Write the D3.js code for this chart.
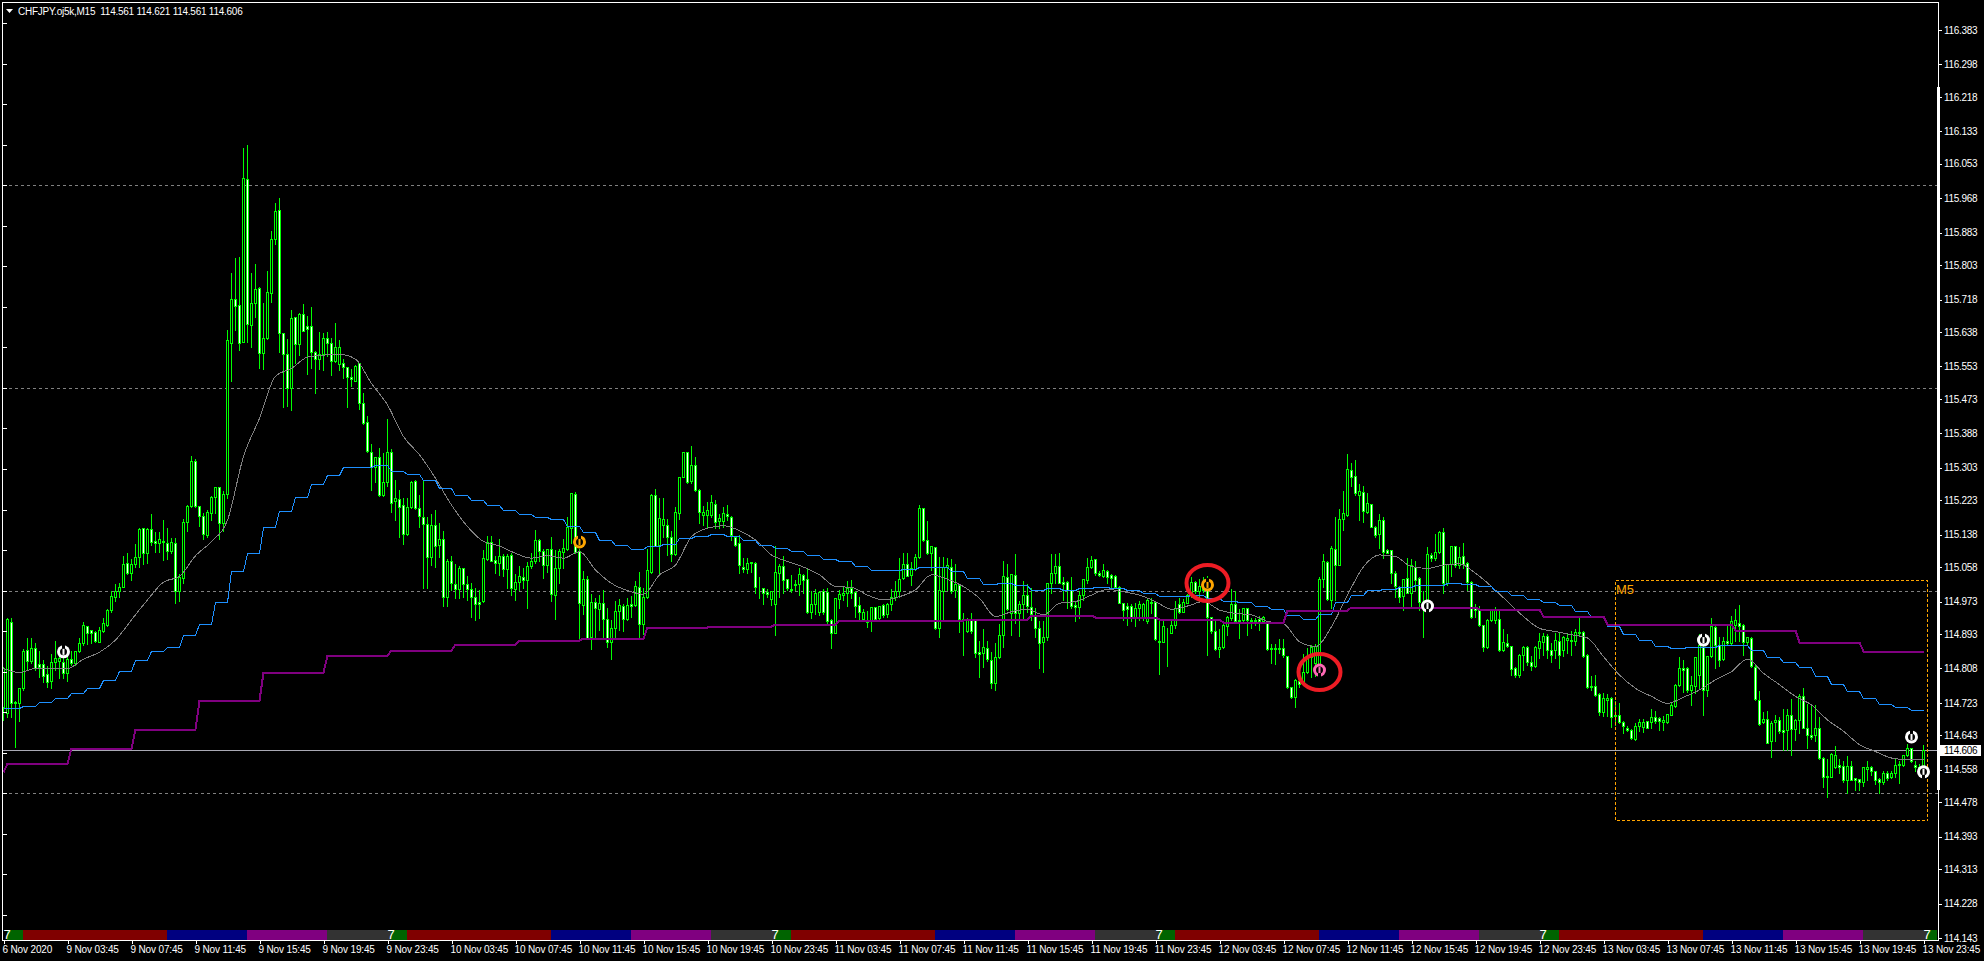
<!DOCTYPE html>
<html>
<head>
<meta charset="utf-8">
<title>CHFJPY M15</title>
<script src="https://cdn.jsdelivr.net/npm/d3@7"></script>
<style>
    html, body { margin: 0; padding: 0; background: #000; overflow: hidden; }
    svg { display: block; }
    text { font-family: "Liberation Sans", sans-serif; fill: #fff; }
</style>
</head>
<body>
<svg id="chart" width="1984" height="961"></svg>
<script>
// all candle and indicator values are points above 114.000 (561 = 114.561)
const opens = [
714,699,923,726,722,759,854,827,859,818,818,794,778,825,827,825,796,831,821,851,870,912,902,897,874,
901,915,951,985,998,1010,1067,1043,1065,1082,1154,1092,1151,1122,1118,1123,1118,1097,1117,998,1030,1170,1209,1319,1209,
1183,1137,1191,1230,1255,1166,1239,1612,1719,1704,1614,2015,1656,1709,1746,1585,1624,1735,1867,1939,1635,1583,1499,1674,1608,
1682,1652,1652,1588,1571,1583,1622,1610,1567,1558,1561,1552,1526,1518,1561,1462,1417,1343,1304,1329,1235,1269,1341,1220,1225,
1210,1139,1206,1271,1203,1181,1165,1082,1161,1112,1127,985,1072,1016,1005,1057,1016,1004,985,973,974,1078,1119,1076,1067,
1086,1053,1088,1004,1022,1034,1026,1061,1072,1124,1098,1064,1102,989,1055,1096,1102,1154,1238,1097,965,1028,885,973,954,
969,931,874,907,949,962,930,966,964,1010,917,985,1047,1235,1113,1161,1161,1132,1090,1191,1280,1341,1270,1310,1248,
1187,1187,1187,1213,1172,1172,1189,1182,1133,1117,1059,1053,1071,1067,1007,1007,997,979,967,1043,1061,1028,1004,1013,1016,
1039,1028,946,967,946,999,997,928,896,980,989,995,1007,997,964,929,928,925,960,932,964,942,966,984,998,
1030,1065,1039,1053,1082,1203,1124,1092,1107,907,1000,1058,1058,1002,1013,929,901,928,928,848,845,858,829,771,837,
891,1033,944,1039,944,966,988,959,940,907,872,885,1018,1043,1061,1021,1021,1002,964,959,989,1025,1059,1077,1044,
1036,1049,1039,1036,1010,970,961,962,936,956,936,924,969,973,876,874,896,896,914,967,948,970,989,1022,1000,
1018,1006,934,901,855,862,913,932,966,928,928,958,928,924,929,925,924,859,857,859,859,839,762,738,778,
775,800,837,821,817,1028,1070,977,1103,1063,1177,1187,1298,1283,1236,1243,1195,1214,1156,1139,1174,1100,1100,1044,1008,
987,1030,995,1059,1030,961,973,1088,1081,1096,1144,1018,1066,1110,1063,1086,1069,1022,959,952,914,860,928,928,930,
854,870,864,809,792,842,861,825,815,858,872,888,854,854,876,854,877,879,875,895,898,840,765,765,745,
700,731,735,690,692,675,662,655,634,665,663,678,677,688,685,676,675,694,716,768,809,809,754,765,792,
862,755,838,910,866,831,875,870,916,920,914,872,884,811,731,676,683,628,676,680,656,657,692,659,680,
741,662,644,643,661,587,543,541,566,569,568,532,568,537,535,527,561,565,554,535,527,550,539,550,570,
569,595,611,570,566,561
];
const highs = [
814,936,936,730,763,858,885,885,874,854,831,817,845,878,850,845,841,854,854,886,925,913,903,903,913,
934,956,1002,1018,1022,1088,1096,1080,1117,1156,1156,1156,1192,1146,1146,1177,1156,1133,1133,1043,1178,1214,1335,1326,1211,
1193,1201,1236,1258,1258,1248,1645,1785,1822,1826,2094,2103,1785,1807,1751,1713,1791,1890,1959,1970,1638,1622,1694,1677,1687,
1709,1680,1702,1594,1640,1637,1640,1625,1663,1621,1573,1555,1548,1558,1565,1490,1433,1363,1331,1355,1343,1425,1351,1275,1250,
1232,1230,1273,1275,1238,1273,1183,1192,1201,1170,1150,1080,1088,1067,1063,1059,1039,1022,1010,1004,1102,1137,1137,1088,1129,
1092,1092,1096,1043,1063,1059,1072,1096,1151,1129,1104,1104,1135,1102,1104,1129,1183,1244,1246,1104,1051,1039,993,985,992,
1003,960,929,977,981,969,985,989,1026,1048,1010,1104,1242,1252,1232,1230,1178,1150,1209,1281,1343,1343,1359,1333,1252,
1211,1220,1238,1225,1191,1209,1214,1187,1137,1140,1082,1084,1072,1072,1035,1010,1006,1002,1113,1067,1088,1030,1041,1028,1059,
1043,1059,1002,1006,1002,1006,1010,932,985,1003,1012,1026,1028,1002,987,956,952,962,962,965,969,973,1006,1026,1084,
1096,1096,1072,1092,1213,1207,1174,1113,1110,1086,1086,1084,1080,1067,1018,947,936,946,932,878,907,878,850,874,919,
1076,1067,1044,1092,977,1026,1018,1010,960,928,928,1022,1092,1092,1096,1035,1026,1035,977,1002,1030,1084,1088,1080,1051,
1067,1053,1043,1041,1014,973,973,969,973,977,973,981,985,977,928,928,911,928,977,985,981,993,1035,1026,1030,
1035,1039,937,928,907,919,940,1006,1002,956,960,960,936,936,940,940,928,870,870,882,882,841,763,784,784,
845,862,868,870,1035,1092,1076,1113,1183,1203,1247,1339,1318,1324,1265,1261,1244,1215,1162,1191,1183,1104,1102,1051,1014,
1030,1082,1080,1076,1035,1002,1110,1096,1141,1150,1158,1067,1113,1113,1109,1121,1072,1026,969,965,918,932,956,961,952,
907,895,866,813,846,866,866,842,866,899,897,895,872,899,899,891,895,903,907,936,903,846,792,795,751,
751,747,739,731,724,681,669,661,677,685,685,681,710,706,690,694,696,727,772,838,831,813,792,838,895,
883,842,936,920,887,887,916,940,957,967,921,888,888,821,755,702,706,681,696,690,710,710,735,685,747,
763,722,722,721,690,591,587,603,620,587,583,595,583,541,537,566,583,570,558,541,558,558,558,587,583,
597,624,615,583,574,621
];
const lows = [
681,688,688,614,679,755,804,821,804,788,775,763,759,804,784,784,778,817,817,848,866,868,870,872,872,
899,913,948,975,985,1008,1040,1026,1059,1059,1066,1067,1113,1096,1096,1076,1077,1094,970,975,1018,1148,1206,1206,1160,
1127,1133,1174,1191,1127,1146,1228,1516,1643,1594,1614,1614,1602,1676,1548,1547,1620,1713,1855,1589,1452,1456,1446,1561,1581,
1641,1534,1548,1488,1546,1543,1579,1532,1565,1544,1524,1454,1505,1516,1449,1410,1341,1247,1269,1233,1233,1257,1195,1173,1133,
1115,1137,1203,1201,1158,1006,1006,1063,1059,1084,961,961,1002,981,981,985,977,936,928,932,973,1076,1072,1043,1039,
1035,1006,988,977,1002,1006,956,1055,1067,1074,1030,1047,974,930,1018,1055,1099,1117,1092,880,942,880,857,882,903,
885,862,832,886,903,901,928,936,961,886,893,981,1043,1109,1044,1133,1088,1072,1088,1177,1280,1265,1265,1246,1166,
1162,1158,1181,1154,1154,1158,1174,1125,1110,1044,1046,1044,1047,993,981,967,985,965,891,985,993,1002,997,1002,989,
993,944,932,942,940,942,921,859,895,956,977,961,981,936,928,928,910,900,928,929,936,934,952,977,985,
1028,1035,1014,1051,1080,1123,1090,1051,905,886,929,1002,993,985,899,840,899,895,836,788,811,827,759,755,833,
862,952,891,919,888,932,948,928,886,808,800,878,993,1018,1018,977,956,956,924,932,977,1018,1055,1039,1035,
1033,1018,1010,1006,969,928,915,924,913,928,928,919,944,878,794,872,814,895,907,944,946,969,985,993,973,
997,841,895,854,837,858,891,928,924,882,924,891,907,915,903,924,854,822,819,845,837,759,734,712,763,
771,796,788,789,804,1010,977,956,977,1062,1150,1183,1257,1236,1174,1170,1191,1156,1133,1104,1080,1092,1018,985,973,
952,993,961,1002,952,885,952,1072,1076,1092,993,1014,1035,1059,1055,1055,1002,932,936,913,852,858,924,919,850,
850,862,792,787,787,805,817,805,811,833,842,833,825,833,809,838,846,842,866,891,836,759,755,739,694,
690,690,663,669,673,648,653,634,632,653,650,661,661,673,657,655,673,692,714,765,751,751,718,747,759,
694,739,836,809,813,829,866,866,875,875,842,869,811,729,669,673,624,589,628,648,607,607,595,632,648,
661,611,634,628,584,515,492,540,562,550,529,500,532,507,509,517,533,546,523,500,523,533,537,541,525,
568,591,576,554,550,561
];
const closes = [
808,929,722,722,759,851,827,859,808,812,790,775,825,833,833,796,831,821,851,870,914,895,896,876,902,
919,952,987,998,1010,1065,1044,1065,1082,1151,1092,1151,1119,1118,1127,1120,1097,1120,998,1033,1169,1209,1319,1209,1183,
1139,1193,1230,1255,1166,1238,1618,1719,1703,1612,2017,1657,1709,1743,1587,1622,1736,1867,1936,1635,1583,1499,1672,1608,1682,
1641,1645,1588,1571,1583,1622,1610,1567,1602,1602,1551,1526,1521,1555,1464,1414,1345,1306,1329,1235,1269,1341,1217,1229,1207,
1139,1206,1269,1203,1183,1165,1082,1161,1111,1127,984,1072,1018,1005,1055,1016,1004,985,966,968,1080,1121,1074,1067,1086,
1053,1086,1007,1022,1036,1025,1061,1072,1124,1098,1063,1102,991,1055,1098,1104,1156,1240,1096,969,1028,882,973,956,969,
931,874,907,949,964,929,964,961,1012,917,985,1050,1235,1110,1178,1177,1133,1090,1194,1280,1341,1269,1310,1248,1193,
1195,1198,1219,1170,1178,1191,1185,1137,1113,1062,1054,1067,1067,1008,1006,993,992,998,1045,1061,1026,1007,1002,1016,1040,
1026,946,967,993,997,946,924,896,981,991,994,1007,995,963,946,946,922,959,929,962,940,967,984,998,1028,
1065,1036,1055,1082,1205,1125,1092,1109,907,1002,1059,1062,1000,1016,929,928,928,901,845,844,860,831,771,837,891,
1035,954,1041,944,966,989,962,942,907,870,885,1018,1043,1061,1020,1017,1002,961,959,989,1028,1059,1076,1044,1038,
1051,1034,1030,1008,970,951,954,936,956,966,966,977,973,880,872,913,895,914,956,947,973,989,1022,998,1012,
1002,934,901,855,862,915,934,967,925,925,956,928,924,928,924,934,856,857,859,857,840,762,738,780,770,
800,837,862,864,1028,1072,979,1104,1062,1177,1191,1299,1281,1240,1245,1197,1215,1158,1137,1174,1096,1094,1044,1012,985,
1028,995,1062,1026,973,973,1090,1081,1096,1144,1018,1065,1109,1063,1084,1066,1021,934,952,916,860,928,952,951,854,
874,864,807,792,842,861,825,815,861,875,888,854,842,877,842,885,883,875,899,899,838,761,761,743,700,
735,735,687,694,675,665,655,636,665,675,676,662,688,678,678,681,695,718,768,809,805,754,768,835,866,
755,838,912,866,829,876,871,926,928,913,872,885,813,732,671,683,625,673,681,653,650,692,658,680,741,
662,643,640,661,587,541,539,597,595,565,532,568,533,533,527,565,565,554,533,527,550,537,550,570,572,
595,611,579,566,562,606
];

// grey average, one reading every 4th bar
const greyValues = [
808,798,808,808,808,831,848,878,928,977,1021,1035,1086,1121,1174,1331,1425,1529,1548,1576,1581,1583,1571,1511,1458,1380,1335,1277,1211,1158,1121,1110,
1092,1080,1086,1080,1096,1051,1018,1000,991,1039,1063,1133,1154,1160,1148,1125,1088,1072,1058,1039,1010,1008,989,977,985,1002,1039,1028,1010,981,936,
948,954,940,969,973,989,1003,997,989,973,954,962,973,952,944,940,924,918,874,862,911,989,1059,1088,1084,1059,1055,1063,1066,1043,1010,
973,936,907,899,891,883,837,792,759,739,722,737,755,780,800,831,796,768,739,718,681,653,620,603,587,583,583
];
// blue average, one level per hour (4 bars)
const blueLevels = [
710,716,724,734,747,759,779,801,828,850,862,890,917,971,1049,1092,1156,1196,1232,1262,1285,1304,1304,1309,1294,1287,1272,1252,1235,1223,1210,
1198,1188,1181,1176,1159,1144,1125,1112,1102,1109,1115,1129,1134,1139,1135,1124,1112,1104,1097,1087,1077,1072,1060,1050,1050,1053,1058,1058,1048,1030,1016,
1018,1013,1002,1006,1001,1006,1008,1006,1001,993,986,986,988,981,974,971,961,954,939,929,942,971,988,1001,1003,1008,1013,1013,1018,1016,1011,1000,
990,979,972,965,950,934,913,893,879,864,858,861,861,866,866,854,836,824,811,789,770,753,736,721,713,705
];
// purple average, one level per 4 hours (16 bars)
const purpleLevels = [
575,612,659,730,800,841,854,868,877,883,909,913,918,928,928,930,940,935,930,923,952,960,960,955,938,918,918,902,872,852
];
const purpleFirst = 553;

const dashedPrices = [116, 115.5, 115, 114.5];
const lastPrice = 114.606;

const priceTicks = [
116.383,116.298,116.218,116.133,116.053,115.968,115.883,115.803,115.718,115.638,115.553,115.473,115.388,115.303,
115.223,115.138,115.058,114.973,114.893,114.808,114.723,114.643,114.558,114.478,114.393,114.313,114.228,114.143
];
const leftTicks = [
116.4,116.3,116.2,116.1,116,115.9,115.8,115.7,115.6,115.5,115.4,115.3,115.2,115.1,115,114.9,114.8,114.7,114.6,114.5,114.4,114.3,114.2
];
const timeLabels = [
"6 Nov 2020",
"9 Nov 03:45","9 Nov 07:45","9 Nov 11:45","9 Nov 15:45","9 Nov 19:45","9 Nov 23:45",
"10 Nov 03:45","10 Nov 07:45","10 Nov 11:45","10 Nov 15:45","10 Nov 19:45","10 Nov 23:45",
"11 Nov 03:45","11 Nov 07:45","11 Nov 11:45","11 Nov 15:45","11 Nov 19:45","11 Nov 23:45",
"12 Nov 03:45","12 Nov 07:45","12 Nov 11:45","12 Nov 15:45","12 Nov 19:45","12 Nov 23:45",
"13 Nov 03:45","13 Nov 07:45","13 Nov 11:45","13 Nov 15:45","13 Nov 19:45","13 Nov 23:45"
];
const timeTickBars = timeLabels.map((_, i) => i * 16);

// session strip along the bottom, edges in bars
const sessionEdges = [1,5,41,61,81,97,101,137,157,177,193,197,233,253,273,289,293,329,349,369,385,389,425,445,465,481,483.6];
const sessionColors = ["#006400","#800000","#000080","#800080","#333333"];
const sevenBars = [0,96,192,288,384,480];

const markerBars = [15,144,301,329,356,425,477,480];
const markerValues = [849,1120,1014,804,962,878,639,553];
const markerColors = ["#ffffff","#ffa500","#ffa500","#ff69b4","#ffffff","#ffffff","#ffffff","#ffffff"];
const markerUp = [true,true,true,false,false,true,true,false];

const circleBars = [301,329];
const circleValues = [1019,799];

const boxBars = [403,481];
const boxValues = [1026,434];

const toPrice = v => 114 + v / 1000;

function drawChart() {
    const svg = d3.select("#chart");

    const x = d3.scaleLinear().domain([0, 480]).range([3.5, 1923.5]);
    const y = d3.scaleLinear().domain([114.143, 116.383]).range([938, 30]);
    const py = v => Math.round(y(v)) + 0.5;

    // levels
    svg.append("g")
        .selectAll("line")
        .data(dashedPrices)
        .join("line")
        .attr("x1", 3)
        .attr("x2", 1938)
        .attr("y1", d => py(d))
        .attr("y2", d => py(d))
        .attr("stroke", "#808080")
        .attr("stroke-dasharray", "3,3");

    svg.append("line")
        .attr("x1", 3)
        .attr("x2", 1938)
        .attr("y1", py(lastPrice))
        .attr("y2", py(lastPrice))
        .attr("stroke", "#a9a9b4");

    // candles
    const candles = opens.map((o, i) => ({ i, o, h: highs[i], l: lows[i], c: closes[i] }));
    const candle = svg.append("g")
        .attr("shape-rendering", "crispEdges")
        .selectAll("g")
        .data(candles)
        .join("g");

    candle.append("line")
        .attr("x1", d => x(d.i))
        .attr("x2", d => x(d.i))
        .attr("y1", d => py(toPrice(d.h)))
        .attr("y2", d => py(toPrice(d.l)))
        .attr("stroke", "#00ff00");

    candle.append("rect")
        .attr("x", d => x(d.i) - 1)
        .attr("width", 2)
        .attr("y", d => py(toPrice(Math.max(d.o, d.c))))
        .attr("height", d => py(toPrice(Math.min(d.o, d.c))) - py(toPrice(Math.max(d.o, d.c))))
        .attr("fill", d => d.c >= d.o ? "#000" : "#fff")
        .attr("stroke", "#00ff00");

    // averages
    const greyLine = d3.line()
        .x((_, k) => x(k * 4))
        .y(d => y(toPrice(d)))
        .curve(d3.curveMonotoneX);

    svg.append("path")
        .attr("d", greyLine(greyValues))
        .attr("fill", "none")
        .attr("stroke", "#808080")
        .attr("shape-rendering", "crispEdges");

    const stepLine = d3.line()
        .x(d => x(d[0]))
        .y(d => Math.round(y(toPrice(d[1]))) + 0.5);

    const bluePoints = [[0, blueLevels[0]]];
    blueLevels.forEach((v, k) => bluePoints.push([4 * k + 1, v], [4 * k + 4, v]));
    svg.append("path")
        .attr("d", stepLine(bluePoints))
        .attr("fill", "none")
        .attr("stroke", "#1e90ff")
        .attr("shape-rendering", "crispEdges");

    const purplePoints = [[0, purpleFirst]];
    purpleLevels.forEach((v, k) => purplePoints.push([16 * k + 1, v], [16 * k + 16, v]));
    svg.append("path")
        .attr("d", stepLine(purplePoints))
        .attr("fill", "none")
        .attr("stroke", "#800080")
        .attr("stroke-width", 2)
        .attr("shape-rendering", "crispEdges");

    // M5 box
    svg.append("rect")
        .attr("x", x(boxBars[0]))
        .attr("y", py(toPrice(boxValues[0])))
        .attr("width", x(boxBars[1]) - x(boxBars[0]))
        .attr("height", py(toPrice(boxValues[1])) - py(toPrice(boxValues[0])))
        .attr("fill", "none")
        .attr("stroke", "#ffa500")
        .attr("stroke-dasharray", "3,2")
        .attr("shape-rendering", "crispEdges");

    svg.append("text")
        .attr("x", x(boxBars[0]) + 0.5)
        .attr("y", py(toPrice(boxValues[0])) + 13)
        .attr("font-size", 13)
        .style("fill", "#ffa500")
        .text("M5");

    // session strip
    const strip = svg.append("g").attr("shape-rendering", "crispEdges");
    strip.selectAll("rect")
        .data(sessionEdges.slice(0, -1))
        .join("rect")
        .attr("x", d => x(d) - 0.5)
        .attr("width", (d, i) => x(sessionEdges[i + 1]) - x(d))
        .attr("y", 930)
        .attr("height", 10)
        .attr("fill", (_, i) => sessionColors[i % 5]);

    strip.selectAll("text")
        .data(sevenBars)
        .join("text")
        .attr("x", d => x(d) + 3.5)
        .attr("y", 939)
        .attr("text-anchor", "middle")
        .attr("font-size", 13)
        .text("7");

    // frame
    const frame = svg.append("g").attr("shape-rendering", "crispEdges").attr("stroke", "#fff");
    frame.append("line").attr("x1", 2.5).attr("x2", 2.5).attr("y1", 2).attr("y2", 941);
    frame.append("line").attr("x1", 2).attr("x2", 1939).attr("y1", 2.5).attr("y2", 2.5);
    frame.append("line").attr("x1", 1938.5).attr("x2", 1938.5).attr("y1", 2).attr("y2", 941);
    frame.append("line").attr("x1", 2).attr("x2", 1939).attr("y1", 940.5).attr("y2", 940.5);
    frame.append("rect").attr("x", 1937).attr("y", 87).attr("width", 3).attr("height", 703)
        .attr("fill", "#fff").attr("stroke", "none");

    // axes
    const rightAxis = svg.append("g")
        .attr("transform", "translate(1938,0)")
        .call(d3.axisRight(y).tickValues(priceTicks).tickSize(4).tickPadding(2).tickFormat(d3.format(".3f")));
    const leftAxis = svg.append("g")
        .attr("transform", "translate(3,0)")
        .call(d3.axisRight(y).tickValues(leftTicks).tickSize(4).tickFormat(""));
    const timeAxis = svg.append("g")
        .attr("transform", "translate(0,940)")
        .call(d3.axisBottom(x).tickValues(timeTickBars).tickSize(4).tickPadding(2).tickFormat((_, i) => timeLabels[i]));

    [rightAxis, leftAxis, timeAxis].forEach(g => {
        g.select(".domain").remove();
        g.selectAll("line").attr("stroke", "#fff").attr("shape-rendering", "crispEdges");
        g.selectAll("text").attr("font-size", 10).attr("font-family", "Liberation Sans");
    });
    rightAxis.selectAll("text").attr("letter-spacing", -0.3);
    timeAxis.selectAll("text").attr("text-anchor", "start").attr("dx", -1.5).attr("letter-spacing", -0.15);

    // last price tag
    svg.append("rect")
        .attr("x", 1940)
        .attr("y", py(lastPrice) - 5.5)
        .attr("width", 41)
        .attr("height", 11)
        .attr("fill", "#fff");
    svg.append("text")
        .attr("x", 1944)
        .attr("y", py(lastPrice) + 3.5)
        .attr("font-size", 10)
        .attr("letter-spacing", -0.3)
        .style("fill", "#000")
        .text(lastPrice.toFixed(3));

    // arrows
    const marker = svg.append("g")
        .selectAll("g")
        .data(markerBars)
        .join("g")
        .attr("transform", (d, i) => `translate(${x(d)},${y(toPrice(markerValues[i]))})`);
    marker.append("circle").attr("r", 6.5).attr("fill", (_, i) => markerColors[i]);
    marker.append("circle").attr("r", 3.5).attr("fill", "#000");
    marker.append("rect")
        .attr("x", -1.5)
        .attr("y", (_, i) => markerUp[i] ? -7 : 2)
        .attr("width", 3)
        .attr("height", 5)
        .attr("fill", "#000");
    marker.append("rect")
        .attr("x", -1)
        .attr("y", (_, i) => markerUp[i] ? -3 : -3)
        .attr("width", 2)
        .attr("height", 6)
        .attr("fill", (_, i) => markerColors[i]);

    // hand drawn circles
    svg.append("g")
        .selectAll("ellipse")
        .data(circleBars)
        .join("ellipse")
        .attr("cx", d => x(d))
        .attr("cy", (_, i) => y(toPrice(circleValues[i])))
        .attr("rx", 21)
        .attr("ry", 18)
        .attr("fill", "none")
        .attr("stroke", "#ed1c24")
        .attr("stroke-width", 4);

    // header
    svg.append("path").attr("d", "M6,9 L13,9 L9.5,13 Z").attr("fill", "#fff");
    const n = opens.length - 1;
    const ohlc = [opens[n], highs[n], lows[n], closes[n]].map(v => toPrice(v).toFixed(3)).join(" ");
    svg.append("text")
        .attr("x", 18)
        .attr("y", 14.5)
        .attr("font-size", 10)
        .attr("letter-spacing", -0.25)
        .attr("xml:space", "preserve")
        .style("white-space", "pre")
        .text("CHFJPY.oj5k,M15  " + ohlc);
}
drawChart();
</script>
</body>
</html>
